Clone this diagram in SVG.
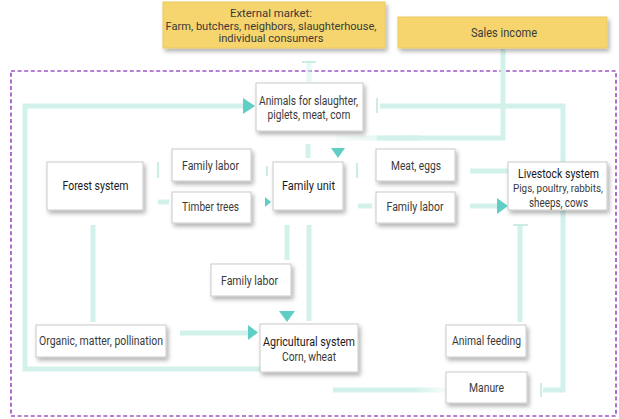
<svg xmlns="http://www.w3.org/2000/svg" width="619" height="419" viewBox="0 0 619 419">
<defs>
<filter id="sh" x="-20%" y="-20%" width="150%" height="160%">
<feDropShadow dx="2" dy="3" stdDeviation="2" flood-color="#000" flood-opacity="0.3"/>
</filter>
<linearGradient id="fadeL" gradientUnits="userSpaceOnUse" x1="338" y1="0" x2="420" y2="0">
<stop offset="0" stop-color="#d2f1ea" stop-opacity="0.15"/><stop offset="1" stop-color="#d2f1ea"/>
</linearGradient>
<linearGradient id="fadeR" gradientUnits="userSpaceOnUse" x1="333" y1="0" x2="446" y2="0">
<stop offset="0" stop-color="#d2f1ea"/><stop offset="0.7" stop-color="#d2f1ea"/><stop offset="1" stop-color="#d2f1ea" stop-opacity="0.2"/>
</linearGradient>
</defs>
<style>
.box{fill:#fff;stroke:#c9c9c9;stroke-width:1;filter:url(#sh)}
.ybox{fill:#f7d56e;stroke:#ecc95c;stroke-width:1;filter:url(#sh)}
.ln{fill:none;stroke:#d2f1ea;stroke-width:5}
.tk{fill:none;stroke:#bfe9e0;stroke-width:1.6}
.ar{fill:#5fcfc5}
text{font-family:Roboto,"Liberation Sans",Arial,sans-serif;font-size:12px;fill:#3a3a3a;text-anchor:middle}
.t{fill:#1a1a1a}
.ex{font-size:11px}
.sm{font-size:10.5px}
.bd{fill:none;stroke:#9d55c9;stroke-width:1.7;stroke-dasharray:4 2.6}
</style>
<rect class="bd" x="11" y="71" width="605" height="345"/>
<g id="connectors">
<path class="ln" d="M260,369 H25 V106 H243"/>
<polygon class="ar" points="243,98 255,106 243,114"/>
<path class="ln" d="M380,106 H563 V390 H543"/>
<line class="tk" x1="377" y1="98" x2="377" y2="113"/>
<line class="tk" x1="541" y1="383" x2="541" y2="397"/>
<path class="ln" d="M503,49 V138 H377"/>
<path class="ln" style="stroke:url(#fadeL)" d="M420,138 H338 V147"/>
<polygon class="ar" points="331,148 345,148 338,158"/>
<line class="tk" x1="302" y1="62" x2="316" y2="62"/>
<line class="ln" x1="309" y1="63" x2="309" y2="82" style="opacity:0.5"/>
<line class="ln" x1="308" y1="144" x2="308" y2="158"/>
<line class="tk" x1="158" y1="162" x2="158" y2="178"/>
<line class="tk" x1="267" y1="166" x2="267" y2="176"/>
<line class="ln" x1="158" y1="202" x2="169" y2="202"/>
<polygon class="ar" points="265,197 271,202 265,207"/>
<line class="tk" x1="357" y1="163" x2="357" y2="178"/>
<line class="ln" x1="470" y1="171" x2="508" y2="171"/>
<line class="ln" x1="358" y1="206" x2="372" y2="206"/>
<line class="ln" x1="470" y1="206" x2="497" y2="206"/>
<polygon class="ar" points="497,198 508,206 497,214"/>
<line class="tk" x1="513" y1="225" x2="528" y2="225"/>
<line class="ln" x1="520" y1="226" x2="520" y2="322"/>
<path class="ln" style="stroke:url(#fadeR)" d="M333,390 H446"/>
<line class="ln" x1="93" y1="225" x2="93" y2="322"/>
<line class="ln" x1="180" y1="333" x2="248" y2="333"/>
<polygon class="ar" points="248,325 258,332.5 248,340"/>
<line class="ln" x1="287" y1="225" x2="287" y2="260"/>
<polygon class="ar" points="279,311 295,311 287,322"/>
<line class="ln" x1="309" y1="225" x2="309" y2="321"/>
</g>
<g id="external-market">
<rect class="ybox" x="163" y="2" width="222" height="46"/>
<text class="ex" x="271" y="17" textLength="82" lengthAdjust="spacingAndGlyphs">External market:</text>
<text class="ex" x="271" y="29.5" textLength="211" lengthAdjust="spacingAndGlyphs">Farm, butchers, neighbors, slaughterhouse,</text>
<text class="ex" x="271" y="41.5" textLength="105" lengthAdjust="spacingAndGlyphs">individual consumers</text>
</g>
<g id="sales-income">
<rect class="ybox" x="398" y="17" width="209" height="31"/>
<text x="504" y="36.5" textLength="66" lengthAdjust="spacingAndGlyphs">Sales income</text>
</g>
<g id="animals">
<rect class="box" x="256" y="83" width="107" height="48"/>
<text x="308.5" y="104.5" textLength="99" lengthAdjust="spacingAndGlyphs">Animals for slaughter,</text>
<text x="309" y="118.5" textLength="83" lengthAdjust="spacingAndGlyphs">piglets, meat, corn</text>
</g>
<g id="forest">
<rect class="box" x="47" y="162" width="96" height="48"/>
<text class="t" x="95.5" y="190" textLength="66" lengthAdjust="spacingAndGlyphs">Forest system</text>
</g>
<g id="family-labor-1">
<rect class="box" x="172" y="149" width="79" height="32"/>
<text x="210.5" y="169.5" textLength="57" lengthAdjust="spacingAndGlyphs">Family labor</text>
</g>
<g id="timber">
<rect class="box" x="172" y="192" width="79" height="31"/>
<text x="210.5" y="211" textLength="57" lengthAdjust="spacingAndGlyphs">Timber trees</text>
</g>
<g id="family-unit">
<rect class="box" x="273" y="162" width="70" height="48"/>
<text class="t" x="308.5" y="189.5" textLength="53" lengthAdjust="spacingAndGlyphs">Family unit</text>
</g>
<g id="meat-eggs">
<rect class="box" x="376" y="149" width="79" height="32"/>
<text x="416" y="169.5" textLength="50" lengthAdjust="spacingAndGlyphs">Meat, eggs</text>
</g>
<g id="family-labor-2">
<rect class="box" x="376" y="192" width="79" height="31"/>
<text x="415" y="211" textLength="57" lengthAdjust="spacingAndGlyphs">Family labor</text>
</g>
<g id="livestock">
<rect class="box" x="508" y="162" width="99" height="48"/>
<text class="t" x="558.5" y="177.5" textLength="81" lengthAdjust="spacingAndGlyphs">Livestock system</text>
<text class="sm" x="558" y="192" textLength="90" lengthAdjust="spacingAndGlyphs">Pigs, poultry, rabbits,</text>
<text x="558.5" y="206.5" textLength="59" lengthAdjust="spacingAndGlyphs">sheeps, cows</text>
</g>
<g id="family-labor-3">
<rect class="box" x="211" y="264" width="80" height="32"/>
<text x="249.5" y="284.5" textLength="57" lengthAdjust="spacingAndGlyphs">Family labor</text>
</g>
<g id="organic">
<rect class="box" x="36" y="325" width="130" height="32"/>
<text x="101" y="344.5" textLength="124" lengthAdjust="spacingAndGlyphs">Organic, matter, pollination</text>
</g>
<g id="agricultural">
<rect class="box" x="260" y="324" width="98" height="48"/>
<text class="t" x="309" y="345.5" textLength="92" lengthAdjust="spacingAndGlyphs">Agricultural system</text>
<text x="309" y="360.5" textLength="54" lengthAdjust="spacingAndGlyphs">Corn, wheat</text>
</g>
<g id="animal-feeding">
<rect class="box" x="446" y="325" width="80" height="32"/>
<text x="486.5" y="344.5" textLength="69" lengthAdjust="spacingAndGlyphs">Animal feeding</text>
</g>
<g id="manure">
<rect class="box" x="446" y="372" width="81" height="31"/>
<text x="486.5" y="392" textLength="35" lengthAdjust="spacingAndGlyphs">Manure</text>
</g>
</svg>
